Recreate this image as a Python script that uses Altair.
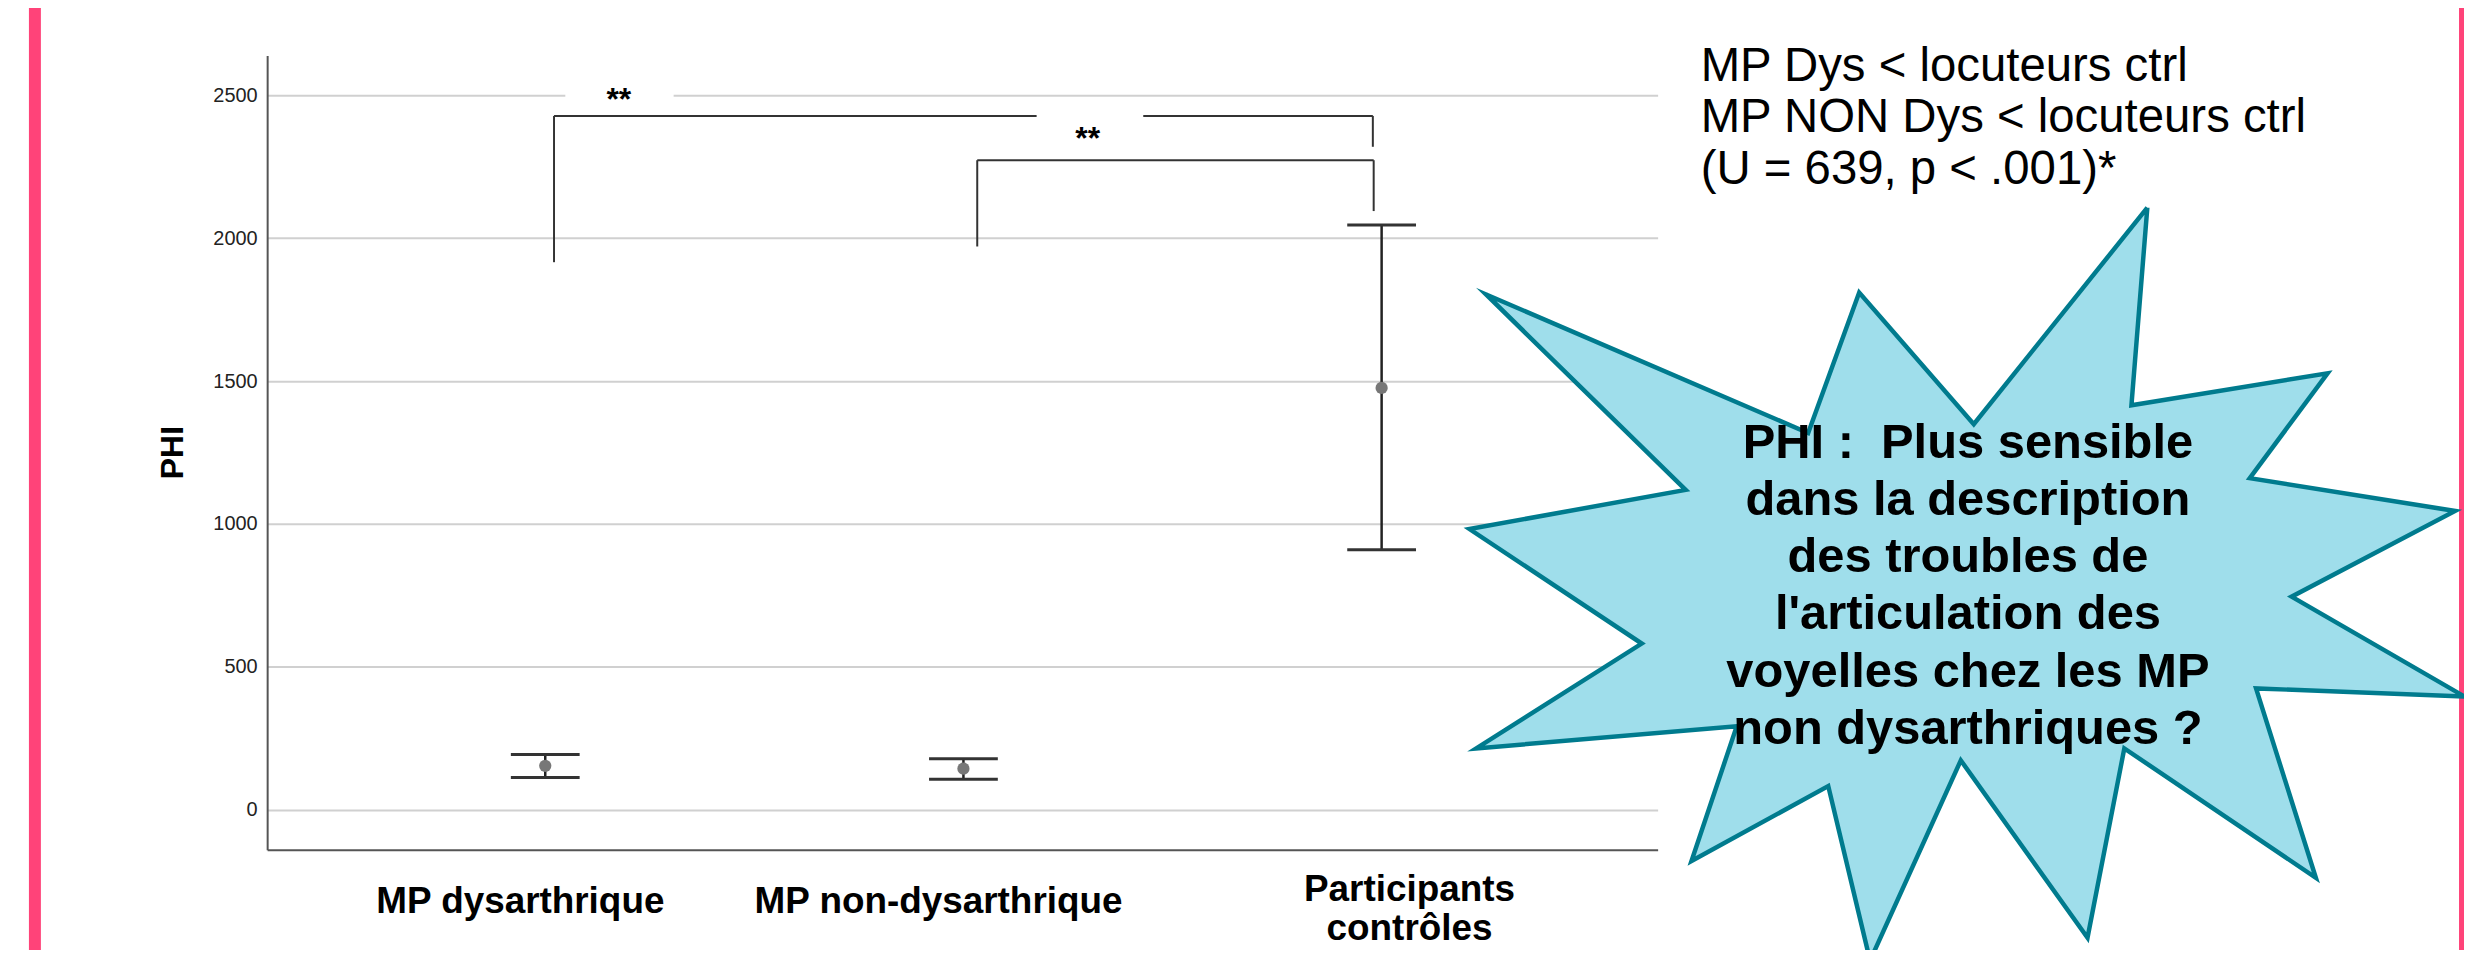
import altair as alt
import pandas as pd

FONT = "Liberation Sans, Arial, Helvetica, sans-serif"

# ---------------- data ----------------
groups = ["MP dysarthrique", "MP non-dysarthrique", "Participants contrôles"]
tick_labels = ["MP dysarthrique", "MP non-dysarthrique", "Participants|contrôles"]
group_pos = [0, 1, 2]
phi_mean = [153, 143, 1476]
ci_low = [112, 106, 909]
ci_high = [193, 178, 2046]
y_ticks = [0, 500, 1000, 1500, 2000, 2500]

# significance brackets (segments)
seg_x = [0.021, 0.021, 1.979, 1.033, 1.033, 1.981]
seg_x2 = [1.979, 0.021, 1.979, 1.981, 1.033, 1.981]
seg_y = [2428, 2428, 2428, 2273, 2273, 2273]
seg_y2 = [2428, 1916, 2320, 2273, 1971, 2095]

sig_text = ["**", "**"]
sig_x = [0.176, 1.297]
sig_y = [2450, 2311]
mask_x = [0.048, 1.175]
mask_x2 = [0.307, 1.430]
mask_y = [2435, 2284]
mask_y2 = [2602, 2452]

# starburst outline
star_x = [3.831, 3.793, 4.262, 4.076, 4.567, 4.176, 4.589, 4.091, 4.234, 3.776,
          3.688, 3.385, 3.168, 3.068, 2.741, 2.849, 2.226, 2.622, 2.210, 2.727,
          2.250, 3.020, 3.142, 3.416]
star_y = [2107, 1415, 1527, 1160, 1045, 745, 396, 424, -239, 214,
          -449, 172, -529, 82, -180, 291, 214, 581, 982, 1119,
          1803, 1318, 1810, 1349]

note_lines = ["MP Dys < locuteurs ctrl", "MP NON Dys < locuteurs ctrl",
              "(U = 639, p < .001)*"]
star_lines = ["PHI :\u00a0 Plus sensible", "dans la description", "des troubles de",
              "l'articulation des", "voyelles chez les MP", "non dysarthriques ?"]

# ---------------- tables ----------------
df = pd.DataFrame({"x": group_pos, "group": groups, "mean": phi_mean,
                   "lo": ci_low, "hi": ci_high})
labs = pd.DataFrame({"x": group_pos, "t": tick_labels})
seg = pd.DataFrame({"x": seg_x, "x2": seg_x2, "y": seg_y, "y2": seg_y2})
sig = pd.DataFrame({"x": sig_x, "y": sig_y, "t": sig_text})
mask = pd.DataFrame({"x": mask_x, "x2": mask_x2, "y": mask_y, "y2": mask_y2})
star = pd.DataFrame({"x": star_x + star_x[:1], "y": star_y + star_y[:1],
                     "o": list(range(len(star_x) + 1))})
note = pd.DataFrame({"x": [2.763], "y": [2550], "t": ["\n".join(note_lines)]})
stext = pd.DataFrame({"x": [3.402], "y": [1230], "t": ["\n".join(star_lines)]})
one = pd.DataFrame({"a": [0]})

x_scale = alt.Scale(domain=[-0.665, 2.66], nice=False, zero=False)
y_scale = alt.Scale(domain=[-141, 2640], nice=False, zero=False)

x_axis = alt.Axis(values=group_pos, labels=False, grid=False, ticks=False,
                  domainColor="#555555", domainWidth=2)
y_axis = alt.Axis(values=y_ticks, format="d", grid=True, gridColor="#d0d0d0",
                  gridWidth=2, ticks=False, labelFontSize=20, labelColor="#222222",
                  labelPadding=10, domainColor="#555555", domainWidth=2,
                  titleFontSize=32, titleFontWeight="bold", titleColor="#000000",
                  titleX=-95, titleY=398, titleAngle=270, titleBaseline="middle",
                  titleAlign="center", labelFont=FONT, titleFont=FONT)


def X(f):
    return alt.X(f, type="quantitative", scale=x_scale, axis=x_axis, title=None)


def Y(f):
    return alt.Y(f, type="quantitative", scale=y_scale, axis=y_axis, title="PHI")


base = alt.Chart(df)

pink_left = alt.Chart(one).mark_rect(color="#FF4379").encode(
    x=alt.value(-239), x2=alt.value(-227), y=alt.value(-54), y2=alt.value(901))
pink_right = alt.Chart(one).mark_rect(color="#FF4379").encode(
    x=alt.value(2199), x2=alt.value(2210), y=alt.value(-54), y2=alt.value(901))

err = base.mark_rule(color="#222222", strokeWidth=2.5).encode(
    x=X("x"), y=Y("lo"), y2="hi")
caps_lo = base.mark_tick(orient="horizontal", size=69, thickness=3,
                         color="#333333", opacity=1).encode(x=X("x"), y=Y("lo"))
caps_hi = base.mark_tick(orient="horizontal", size=69, thickness=3,
                         color="#333333", opacity=1).encode(x=X("x"), y=Y("hi"))
pts = base.mark_circle(size=150, color="#777777", opacity=1).encode(
    x=X("x"), y=Y("mean"))

# category labels under the x axis
lab_single = alt.Chart(labs).transform_filter("indexof(datum.t, '|') < 0").mark_text(
    fontSize=37, fontWeight="bold", color="#000000", align="center",
    baseline="alphabetic", dx=-25).encode(x=X("x"), y=alt.value(860), text="t:N")
lab_multi = alt.Chart(labs).transform_filter("indexof(datum.t, '|') >= 0").mark_text(
    fontSize=37, fontWeight="bold", color="#000000", align="center",
    baseline="alphabetic", lineBreak="|", lineHeight=40, dx=28).encode(
    x=X("x"), y=alt.value(848), text="t:N")

brackets = alt.Chart(seg).mark_rule(color="#333333", strokeWidth=2).encode(
    x=X("x"), x2="x2", y=Y("y"), y2="y2")
masks = alt.Chart(mask).mark_rect(color="#ffffff").encode(
    x=X("x"), x2="x2", y=Y("y"), y2="y2")
stars_txt = alt.Chart(sig).mark_text(fontSize=32, fontWeight="bold", color="#000000",
                                     align="center", baseline="alphabetic").encode(
    x=X("x"), y=Y("y"), text="t:N")

burst = alt.Chart(star).mark_line(strokeWidth=4.5, strokeJoin="miter",
                                  strokeMiterLimit=20).encode(
    x=X("x"), y=Y("y"), order="o:Q",
    fill=alt.value("#9FDEEB"), stroke=alt.value("#007B8E"))

note_txt = alt.Chart(note).mark_text(fontSize=47.5, align="left", baseline="alphabetic",
                                     lineBreak="\n", lineHeight=51.5,
                                     color="#000000").encode(
    x=X("x"), y=Y("y"), text="t:N")
burst_txt = alt.Chart(stext).mark_text(fontSize=49, fontWeight="bold", align="center",
                                       baseline="alphabetic", lineBreak="\n",
                                       lineHeight=57.3, color="#000000").encode(
    x=X("x"), y=Y("y"), text="t:N")

chart = alt.layer(
    pink_left, pink_right, err, caps_lo, caps_hi, pts, lab_single, lab_multi,
    brackets, masks, stars_txt, burst, note_txt, burst_txt
).properties(
    width=1395, height=797,
    padding={"left": 260, "top": 46, "right": 809, "bottom": 99},
    autosize=alt.AutoSizeParams(type="none"),
    background="#ffffff",
).configure(font=FONT).configure_view(stroke="transparent")

chart.save("out.html", embed_options={"renderer": "svg", "actions": False})
